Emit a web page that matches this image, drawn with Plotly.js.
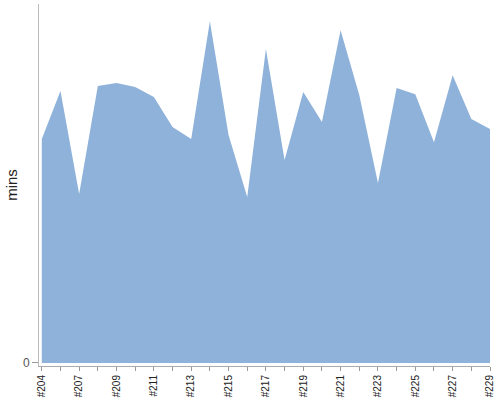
<!DOCTYPE html>
<html>
<head>
<meta charset="utf-8">
<script src="https://cdn.plot.ly/plotly-3.0.1.min.js"></script>
<style>
  html, body { margin: 0; padding: 0; background: #fff; }
  #chart { width: 500px; height: 400px; }
</style>
</head>
<body>
<div id="chart"></div>
<script>
// build numbers along the x axis (#205 is not in the data)
const builds = ["#204", "#206", "#207", "#208", "#209", "#210", "#211", "#212", "#213",
    "#214", "#215", "#216", "#217", "#218", "#219", "#220", "#221", "#222", "#223",
    "#224", "#225", "#226", "#227", "#228", "#229"];

// duration per build
const mins = [62.6, 76.0, 47.2, 77.4, 78.2, 77.1, 74.3, 65.9, 62.6,
    95.5, 63.7, 46.4, 87.7, 56.7, 75.7, 67.3, 93.0, 74.9, 50.3,
    76.8, 75.1, 61.7, 80.4, 68.2, 65.4];

const idx = builds.map((b, i) => i);
const labelIdx = idx.filter(i => i % 2 === 0);

const trace = {
    x: idx,
    y: mins,
    type: "scatter",
    mode: "none",
    fill: "tozeroy",
    fillcolor: "#8fb2da",
    hoverinfo: "skip"
};

const layout = {
    width: 500,
    height: 400,
    margin: { l: 39, r: 10, t: 4, b: 34 },
    paper_bgcolor: "#fff",
    plot_bgcolor: "#fff",
    showlegend: false,
    font: { family: "Liberation Sans, Arial, sans-serif", size: 10, color: "#333" },
    xaxis: {
        range: [-0.15, 24],
        tickmode: "array",
        tickvals: labelIdx,
        ticktext: labelIdx.map(i => builds[i]),
        tickangle: -90,
        ticks: "outside",
        ticklen: 4,
        tickcolor: "#999",
        minor: { dtick: 1, tick0: 0, ticks: "outside", ticklen: 4, tickcolor: "#999" },
        showgrid: false,
        zeroline: false,
        showline: true,
        linecolor: "#aaa",
        linewidth: 1,
        tickfont: { size: 10, color: "#222" }
    },
    yaxis: {
        range: [-0.84, 100.3],
        tickmode: "array",
        tickvals: [0],
        ticktext: ["0"],
        ticks: "outside",
        ticklen: 6,
        tickcolor: "#999",
        showgrid: false,
        zeroline: false,
        showline: true,
        linecolor: "#bbb",
        linewidth: 1,
        tickfont: { size: 12, color: "#555" },
        title: { text: "mins", font: { size: 15, color: "#222" }, standoff: 1 }
    }
};

Plotly.newPlot("chart", [trace], layout, { displayModeBar: false, staticPlot: true });
</script>
</body>
</html>
